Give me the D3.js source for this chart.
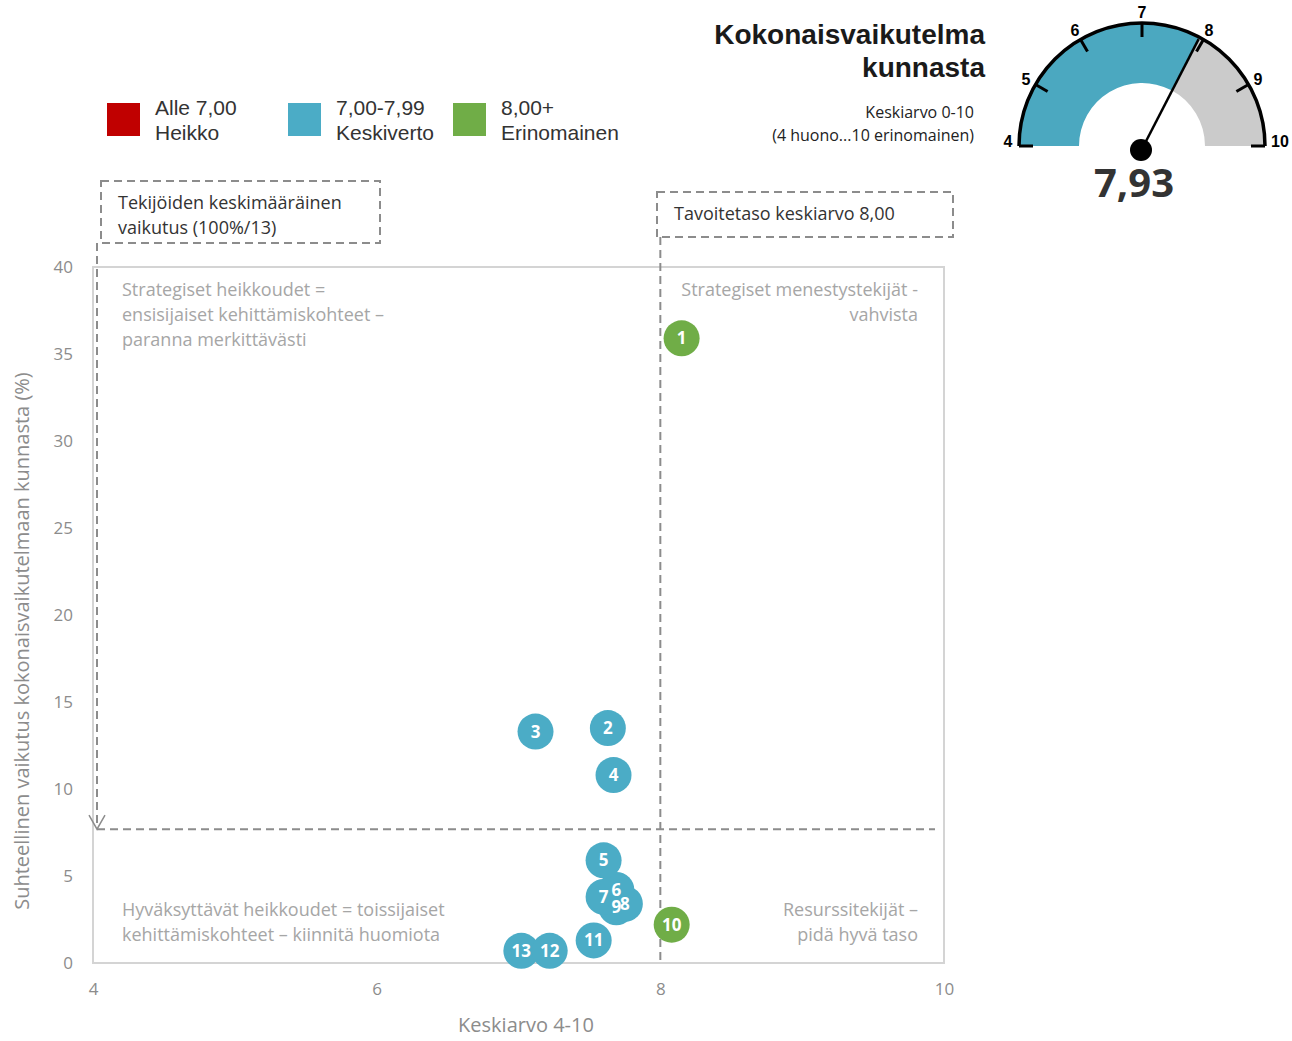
<!DOCTYPE html>
<html>
<head>
<meta charset="utf-8">
<script src="https://cdn.jsdelivr.net/npm/d3@7.9.0/dist/d3.min.js"></script>
<style>
  body { margin: 0; background: #fff; }
  text { font-family: "Open Sans", sans-serif; }
</style>
</head>
<body>
<div class="container"></div>
<script>
// data
const labels = ["1", "2", "3", "4", "5", "6", "7", "8", "9", "10", "11", "12", "13"];
const keskiarvo = [8.15, 7.63, 7.12, 7.67, 7.60, 7.69, 7.60, 7.75, 7.69, 8.08, 7.53, 7.22, 7.02];
const vaikutus = [35.9, 13.5, 13.3, 10.8, 5.9, 4.2, 3.8, 3.4, 3.2, 2.2, 1.3, 0.7, 0.7];
const xTicks = [4, 6, 8, 10];
const yTicks = [0, 5, 10, 15, 20, 25, 30, 35, 40];
const legendItems = [
  { c: "#c00000", l1: "Alle 7,00", l2: "Heikko" },
  { c: "#4bacc6", l1: "7,00-7,99", l2: "Keskiverto" },
  { c: "#70ad47", l1: "8,00+", l2: "Erinomainen" }
];
const gaugeTicks = [4, 5, 6, 7, 8, 9, 10];
const totalScore = 7.93;
const targetLevel = 8.0;
const avgImpact = 100 / 13;

const width = 1292, height = 1041;
const svg = d3.select(".container").append("svg")
  .attr("width", width).attr("height", height);

const x = d3.scaleLinear().domain([4, 10]).range([93, 944]);
const y = d3.scaleLinear().domain([0, 40]).range([963, 267]);

function colorFor(v) {
  if (v < 7) return legendItems[0].c;
  if (v < 8) return legendItems[1].c;
  return legendItems[2].c;
}

// frame
svg.append("rect")
  .attr("x", x(4)).attr("y", y(40))
  .attr("width", x(10) - x(4)).attr("height", y(0) - y(40))
  .attr("fill", "none").attr("stroke", "#d4d4d4").attr("stroke-width", 2);

// axes
const yAxis = svg.append("g")
  .attr("transform", `translate(${x(4)},0)`)
  .call(d3.axisLeft(y).tickValues(yTicks).tickSize(0).tickPadding(20));
yAxis.select(".domain").remove();
yAxis.selectAll("text").attr("fill", "#8c8c8c").style("font-size", "17px")
  .style("font-family", "Open Sans");

const xAxis = svg.append("g")
  .attr("transform", `translate(0,${y(0)})`)
  .call(d3.axisBottom(x).tickValues(xTicks).tickFormat(d3.format("d")).tickSize(0).tickPadding(20));
xAxis.select(".domain").remove();
xAxis.selectAll("text").attr("fill", "#8c8c8c").style("font-size", "17px")
  .style("font-family", "Open Sans");

svg.append("text")
  .attr("x", 526).attr("y", 1032)
  .attr("text-anchor", "middle").attr("fill", "#8c8c8c").style("font-size", "20px")
  .text("Keskiarvo 4-10");

svg.append("text")
  .attr("transform", `translate(29,641) rotate(-90)`)
  .attr("text-anchor", "middle").attr("fill", "#8c8c8c").style("font-size", "20px")
  .text("Suhteellinen vaikutus kokonaisvaikutelmaan kunnasta (%)");

// quadrant texts
const quadColor = "#a6a6a6";
function lines(xp, yp, arr, anchor) {
  const t = svg.append("text").attr("fill", quadColor).style("font-size", "18px")
    .attr("text-anchor", anchor);
  arr.forEach((s, i) => t.append("tspan").attr("x", xp).attr("y", yp + i * 25).text(s));
}
lines(122, 296, ["Strategiset heikkoudet =", "ensisijaiset kehittämiskohteet –", "paranna merkittävästi"], "start");
lines(918, 296, ["Strategiset menestystekijät -", "vahvista"], "end");
lines(122, 916, ["Hyväksyttävät heikkoudet = toissijaiset", "kehittämiskohteet – kiinnitä huomiota"], "start");
lines(918, 916, ["Resurssitekijät –", "pidä hyvä taso"], "end");

// reference lines
const dash = "8,5";
svg.append("line")
  .attr("x1", 97).attr("x2", 935)
  .attr("y1", y(avgImpact)).attr("y2", y(avgImpact))
  .attr("stroke", "#8c8c8c").attr("stroke-width", 2).attr("stroke-dasharray", dash);
svg.append("line")
  .attr("x1", x(targetLevel)).attr("x2", x(targetLevel))
  .attr("y1", 237).attr("y2", y(0))
  .attr("stroke", "#8c8c8c").attr("stroke-width", 2).attr("stroke-dasharray", dash);
svg.append("line")
  .attr("x1", 97).attr("x2", 97)
  .attr("y1", 243).attr("y2", y(avgImpact) - 2)
  .attr("stroke", "#8c8c8c").attr("stroke-width", 2).attr("stroke-dasharray", dash);
// arrow head
svg.append("path")
  .attr("d", `M89,${y(avgImpact) - 14} L97,${y(avgImpact)} L105,${y(avgImpact) - 14}`)
  .attr("fill", "none").attr("stroke", "#8c8c8c").attr("stroke-width", 1.5);

// annotation boxes
function box(x0, y0, w, h, arr) {
  svg.append("rect").attr("x", x0).attr("y", y0).attr("width", w).attr("height", h)
    .attr("fill", "#fff").attr("stroke", "#8c8c8c").attr("stroke-width", 2)
    .attr("stroke-dasharray", dash);
  const t = svg.append("text").attr("fill", "#333").style("font-size", "18px");
  arr.forEach((s, i) => t.append("tspan").attr("x", x0 + 17).attr("y", y0 + 28 + i * 25).text(s));
}
box(101, 181, 279, 62, ["Tekijöiden keskimääräinen", "vaikutus (100%/13)"]);
box(657, 192, 296, 45, ["Tavoitetaso keskiarvo 8,00"]);

// bubbles
const pts = labels.map((l, i) => ({ l, x: keskiarvo[i], y: vaikutus[i] }));
const order = pts.slice().reverse();
svg.append("g").selectAll("circle").data(order).join("circle")
  .attr("cx", d => x(d.x)).attr("cy", d => y(d.y)).attr("r", 18)
  .attr("fill", d => colorFor(d.x));
svg.append("g").selectAll("text").data(order).join("text")
  .attr("x", d => x(d.x)).attr("y", d => y(d.y) + 6)
  .attr("text-anchor", "middle").attr("fill", "#fff")
  .style("font-size", "17px").style("font-weight", "bold")
  .text(d => d.l);

// legend
const lg = svg.append("g").selectAll("g").data(legendItems).join("g")
  .attr("transform", (d, i) => `translate(${[107, 288, 453][i]},103)`);
lg.append("rect").attr("width", 33).attr("height", 33).attr("fill", d => d.c);
lg.append("text").attr("x", 48).attr("y", 12).style("font-family", "Liberation Sans")
  .style("font-size", "21px").attr("fill", "#333").text(d => d.l1);
lg.append("text").attr("x", 48).attr("y", 37).style("font-family", "Liberation Sans")
  .style("font-size", "21px").attr("fill", "#333").text(d => d.l2);

// title
const title = svg.append("text").attr("text-anchor", "end")
  .style("font-family", "Liberation Sans").style("font-weight", "bold")
  .style("font-size", "28px").attr("fill", "#1a1a1a");
title.append("tspan").attr("x", 985).attr("y", 44).text("Kokonaisvaikutelma");
title.append("tspan").attr("x", 985).attr("y", 77).text("kunnasta");
const sub = svg.append("text").attr("text-anchor", "end").style("font-size", "16px").attr("fill", "#222");
sub.append("tspan").attr("x", 974).attr("y", 118).text("Keskiarvo 0-10");
sub.append("tspan").attr("x", 974).attr("y", 141).text("(4 huono...10 erinomainen)");

// gauge
const gcx = 1142, gcy = 146, rOut = 123, rIn = 63;
const ang = d3.scaleLinear().domain([4, 10]).range([-Math.PI / 2, Math.PI / 2]);
const g = svg.append("g").attr("transform", `translate(${gcx},${gcy})`);
const arc = d3.arc().innerRadius(rIn).outerRadius(rOut);
g.append("path").attr("d", arc({ startAngle: ang(4), endAngle: ang(totalScore) })).attr("fill", "#4ba8c0");
g.append("path").attr("d", arc({ startAngle: ang(totalScore), endAngle: ang(10) })).attr("fill", "#cbcbcb");
g.append("path").attr("d", d3.arc().innerRadius(rOut).outerRadius(rOut)({ startAngle: ang(4), endAngle: ang(10) }))
  .attr("fill", "none").attr("stroke", "#000").attr("stroke-width", 3.5);
g.selectAll("line.tick").data(gaugeTicks).join("line")
  .attr("x1", d => Math.sin(ang(d)) * rOut).attr("y1", d => -Math.cos(ang(d)) * rOut)
  .attr("x2", d => Math.sin(ang(d)) * (rOut - 14)).attr("y2", d => -Math.cos(ang(d)) * (rOut - 14))
  .attr("stroke", "#000").attr("stroke-width", 3);
g.selectAll("text.gl").data(gaugeTicks).join("text")
  .attr("x", d => Math.sin(ang(d)) * 134 + (d === 10 ? 4 : 0))
  .attr("y", d => -Math.cos(ang(d)) * 134 + 6 - (d === 4 || d === 10 ? 5 : 0))
  .attr("text-anchor", "middle")
  .style("font-family", "Liberation Sans").style("font-weight", "bold").style("font-size", "16px")
  .text(d => d);
g.append("line").attr("x1", 0).attr("y1", 3)
  .attr("x2", Math.sin(ang(totalScore)) * (rOut - 2)).attr("y2", -Math.cos(ang(totalScore)) * (rOut - 2))
  .attr("stroke", "#000").attr("stroke-width", 2.5);
g.append("circle").attr("cx", -1).attr("cy", 4).attr("r", 11).attr("fill", "#000");
g.append("text").attr("x", -8).attr("y", 51).attr("text-anchor", "middle")
  .style("font-weight", "bold").style("font-size", "40px").attr("fill", "#333")
  .text(String(totalScore).replace(".", ","));
</script>
</body>
</html>
